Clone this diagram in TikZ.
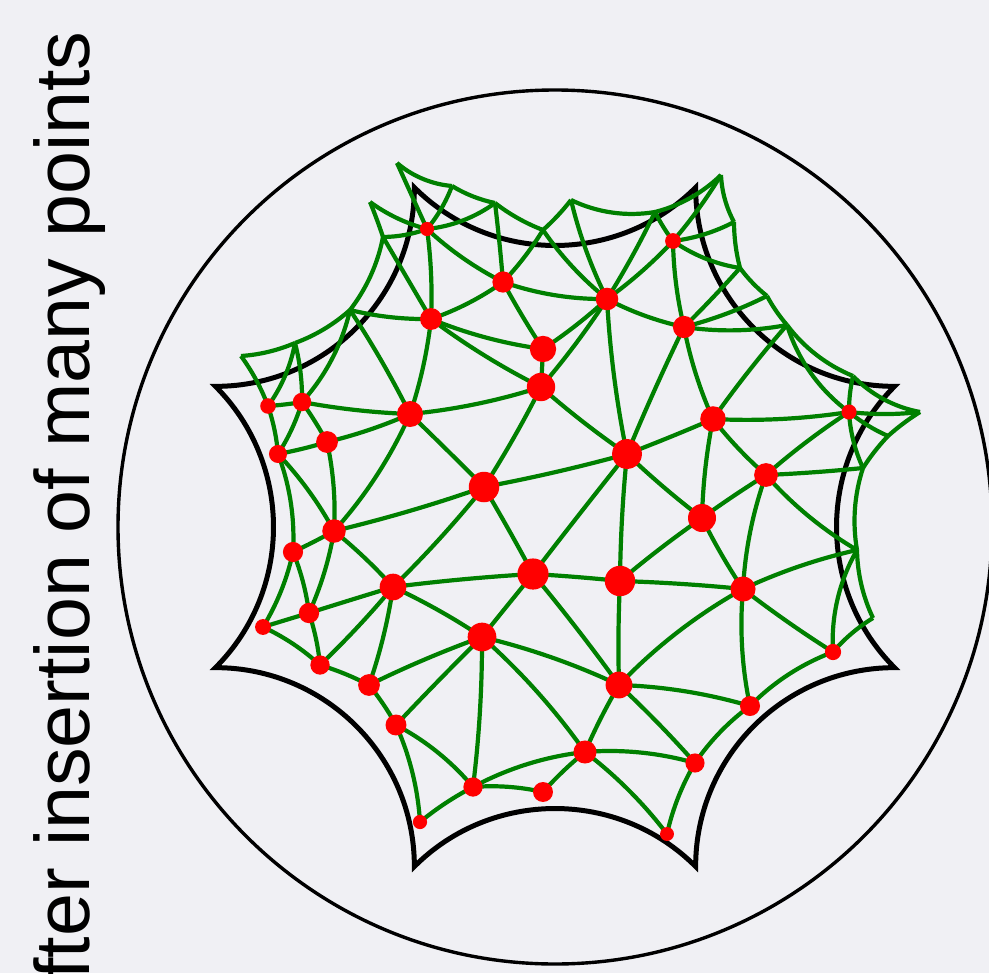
\documentclass[tikz,border=0pt]{standalone}
\usepackage{fontspec}
\setmainfont{Liberation Sans}
\usetikzlibrary{calc}
\pgfdeclarelayer{back}
\pgfdeclarelayer{edges}
\pgfsetlayers{back,edges,main}
\definecolor{bgc}{RGB}{240,240,244}
\definecolor{eg}{RGB}{0,128,0}
\definecolor{dr}{RGB}{255,0,0}
\def\ox{277.5}\def\oy{-263.5}\def\rr{218.5}
\tikzset{
  reddot/.style={circle,fill=dr,draw=none,inner sep=0pt},
  edge/.style={draw=eg,line width=2.1pt},
  octa/.style={draw=black,line width=2.5pt,line join=miter},
  rim/.style={draw=black,line width=1.7pt},
}
\newcommand\vtx[3]{\pgfmathsetmacro\vsz{15.8*(1-((#2-555)/437)^2-((#3-527)/437)^2)}%
  \node[reddot,minimum size=\vsz pt] (#1) at (#2,-#3) {};}
\newcommand\ghost[3]{\coordinate (#1) at (#2,-#3);}
\newcommand\geo[3][edge]{%
  \draw[#1] let \p1=(#2.center), \p2=(#3.center),
    \n1={(\x1-\ox)/\rr}, \n2={(\y1-\oy)/\rr},
    \n3={(\x2-\ox)/\rr}, \n4={(\y2-\oy)/\rr},
    \n5={\n1*\n1+\n2*\n2}, \n6={\n3*\n3+\n4*\n4},
    \n7={\n5>\n6 ? \n1/\n5 : \n3/\n6},
    \n8={\n5>\n6 ? \n2/\n5 : \n4/\n6},
    \n{ux}={\n1-\n7}, \n{uy}={\n2-\n8}, \n{vx}={\n3-\n7}, \n{vy}={\n4-\n8},
    \n{ph}={atan2(abs(\n{ux}*\n{vy}-\n{uy}*\n{vx}), \n{ux}*\n{vx}+\n{uy}*\n{vy})},
    \n{bd}={(\n1*\n4-\n2*\n3 >= 0 ? 1 : -1)*\n{ph}},
    \n{lo}={0.8514/(cos(\n{ph}/2)^2)}
  in (#2.center) to[bend left=\n{bd},looseness=\n{lo}] (#3.center);}
\begin{document}
\begin{tikzpicture}[x=0.5pt,y=0.5pt]
\useasboundingbox (0,0) rectangle (989,-973);
\begin{pgfonlayer}{back}
\fill[bgc] (0,0) rectangle (989,-973);
\coordinate (O) at (555,-527);
\draw[rim] (O) circle[radius=437];
\foreach \k in {0,...,7}{\coordinate (v\k) at ([shift={(555,-527)}]22.5+45*\k:367.5);}
\draw[octa,looseness=0.997] (v0) to[bend left=45] (v1) to[bend left=45] (v2)
  to[bend left=45] (v3) to[bend left=45] (v4) to[bend left=45] (v5)
  to[bend left=45] (v6) to[bend left=45] (v7) to[bend left=45] cycle;
\end{pgfonlayer}
\node[rotate=90,anchor=base east,inner sep=0pt,font=\fontsize{38.6}{42}\selectfont] (title) at (89,-31) {After insertion of many points};
% points
\vtx{a1}{427}{229}\vtx{a2}{503}{282}\vtx{a3}{431}{319}\vtx{a4}{543}{349}
\vtx{a5}{541}{387}\vtx{a6}{607}{299}\vtx{a7}{673}{241}\vtx{a8}{684}{327}
\vtx{a9}{268}{406}\vtx{a10}{302}{402}\vtx{a11}{327}{442}\vtx{a12}{410}{414}
\vtx{a13}{278}{454}\vtx{a14}{484}{487}\vtx{a15}{713}{419}\vtx{a16}{627}{454}
\vtx{a17}{849}{412}\vtx{a18}{766}{475}\vtx{a19}{334}{531}\vtx{a20}{293}{552}
\vtx{a21}{393}{587}\vtx{a22}{533}{574}\vtx{a23}{309}{613}\vtx{a24}{263}{627}
\vtx{a25}{482}{637}\vtx{a26}{320}{665}\vtx{a27}{369}{685}\vtx{a28}{396}{725}
\vtx{a29}{473}{787}\vtx{a30}{543}{792}\vtx{a31}{585}{752}\vtx{a32}{420}{822}
\vtx{a33}{702}{518}\vtx{a34}{620}{581}\vtx{a35}{743}{589}\vtx{a36}{833}{652}
\vtx{a37}{619}{685}\vtx{a38}{750}{706}\vtx{a39}{695}{763}\vtx{a40}{667}{834}
% ghost vertices
\ghost{g1}{397}{163}\ghost{g2}{452}{186}\ghost{g3}{370}{202}\ghost{g4}{383}{237}
\ghost{g5}{350}{310}\ghost{g6}{295}{343}\ghost{g7}{241}{356}\ghost{g8}{495}{203}
\ghost{g9}{543}{230}\ghost{g10}{571}{200}\ghost{g11}{655}{212}\ghost{g12}{721}{175}
\ghost{g13}{734}{222}\ghost{g14}{740}{268}\ghost{g15}{767}{296}\ghost{g16}{787}{325}
\ghost{g17}{853}{376}\ghost{g18}{920}{412}\ghost{g19}{888}{436}\ghost{g20}{863}{468}
\ghost{g21}{857}{550}\ghost{g22}{873}{618}
\begin{pgfonlayer}{edges}
\foreach \a/\b in {g1/g2,g2/g8,g8/g9,g9/g10,g10/g11,g11/g12,g12/g13,g13/g14,g14/g15,
  g15/g16,g16/g17,g17/g18,g18/g19,g19/g20,g20/g21,g21/g22,g3/g4,g4/g5,g5/g6,g6/g7,
  g1/a1,g2/a1,g3/a1,g4/a1,g4/a3,g8/a1,g8/a2,g9/a2,g9/a6,g10/a6,g11/a6,g11/a7,g12/a7,
  g13/a7,g14/a7,g14/a8,g15/a8,g16/a8,g16/a15,g16/a17,g17/a17,g18/a17,g19/a17,g20/a17,
  g20/a18,g21/a18,g21/a35,g21/a36,g22/a36,g5/a3,g5/a12,g5/a10,g6/a10,g6/a9,g7/a9}
  {\geo{\a}{\b}}
\foreach \a/\b in {a1/a2,a1/a3,a2/a3,a2/a4,a2/a6,a3/a4,a3/a5,a3/a12,a4/a5,a4/a6,
  a5/a6,a5/a12,a5/a14,a5/a16,a6/a7,a6/a8,a6/a16,a7/a8,a8/a15,a8/a16,a9/a10,a9/a13,
  a10/a11,a10/a12,a10/a13,a11/a12,a11/a13,a11/a19,a12/a14,a12/a19,a13/a19,a13/a20,
  a14/a16,a14/a19,a14/a21,a14/a22,a15/a16,a15/a17,a15/a18,a15/a33,a16/a22,a16/a33,
  a16/a34,a17/a18,a18/a33,a18/a35,a19/a20,a19/a21,a19/a23,a20/a23,a20/a24,a21/a22,
  a21/a23,a21/a25,a21/a26,a21/a27,a22/a25,a22/a34,a22/a37,a23/a24,a23/a26,a24/a26,
  a25/a27,a25/a28,a25/a29,a25/a31,a25/a37,a26/a27,a27/a28,a28/a29,a28/a32,a29/a30,
  a29/a31,a29/a32,a30/a31,a31/a37,a31/a39,a31/a40,a33/a34,a33/a35,a34/a35,a34/a37,
  a35/a36,a35/a37,a35/a38,a36/a38,a37/a38,a37/a39,a38/a39,a39/a40}
  {\geo{\a}{\b}}
\end{pgfonlayer}
\end{tikzpicture}
\end{document}
